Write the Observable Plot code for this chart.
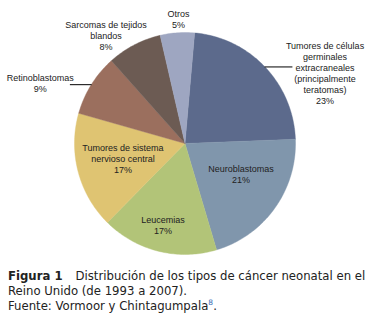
<!DOCTYPE html>
<html>
<head>
<meta charset="utf-8">
<script src="https://cdn.jsdelivr.net/npm/d3@7"></script>
<script src="https://cdn.jsdelivr.net/npm/@observablehq/plot@0.6"></script>
<style>
  html, body { margin: 0; padding: 0; background: #fff; }
  #chart svg { display: block; }
  .cap { font-family: "DejaVu Sans", "Noto Sans", sans-serif; font-size: 11.7px; line-height: 15px; color: #222; padding: 11px 0 0 8px; white-space: nowrap; }
  .cap b { font-weight: 700; }
  .cap .sp { display: inline-block; width: 13px; }
  .cap sup { font-size: 7.5px; color: #3b6eb5; vertical-align: 5px; line-height: 0; }
</style>
</head>
<body>
<div id="chart"></div>
<div class="cap"><b>Figura 1</b><span class="sp"></span>Distribución de los tipos de cáncer neonatal en el<br>Reino Unido (de 1993 a 2007).<br>Fuente: Vormoor y Chintagumpala<sup>8</sup>.</div>
<script>
// ---- data ----
const categories = [
  "Tumores de células\ngerminales\nextracraneales\n(principalmente\nteratomas)",
  "Neuroblastomas",
  "Leucemias",
  "Tumores de sistema\nnervioso central",
  "Retinoblastomas",
  "Sarcomas de tejidos\nblandos",
  "Otros"
];
const values = [23, 21, 17, 17, 9, 8, 5];
const colors = ["#5c6a8c", "#8096ac", "#b2c478", "#dfc472", "#9b6f5e", "#6c5b53", "#9ea6c1"];

// ---- layout (label placement, not data) ----
const labelLayout = [
  {r: 1.0, leader: 27, dx: 33, dy: 6},
  {r: 0.6, dx: 2, dy: -8},
  {r: 0.75, dx: -2, dy: 1},
  {r: 0.6, dx: 2, dy: -2},
  {r: 1.0, leader: -21, dx: -30, dy: -2},
  {r: 1.1, dx: -23, dy: 0},
  {r: 1.1, dx: 2, dy: -3}
];

const W = 380, H = 258;
const ml = 74, mr = 85, mt = 32, mb = 4;
const Rpx = (W - ml - mr) / 2;

const startDeg = 5;
const pie = d3.pie().sort(null).value(d => d.value)
  .startAngle(startDeg * Math.PI / 180)
  .endAngle(startDeg * Math.PI / 180 + 2 * Math.PI);
const table = categories.map((c, i) => ({cat: c, value: values[i], i}));
const arcs = pie(table);

const slicePts = [];
for (const a of arcs) {
  const cat = a.data.cat;
  slicePts.push({cat, x: 0, y: 0});
  const n = Math.max(2, Math.ceil((a.endAngle - a.startAngle) / (Math.PI / 180)));
  for (let k = 0; k <= n; k++) {
    const t = a.startAngle + (a.endAngle - a.startAngle) * k / n;
    slicePts.push({cat, x: Math.sin(t), y: Math.cos(t)});
  }
  slicePts.push({cat, x: 0, y: 0});
}

const labels = [];
const leaders = [];
arcs.forEach((a, i) => {
  const L = labelLayout[i];
  const mid = (a.startAngle + a.endAngle) / 2;
  let x = L.r * Math.sin(mid), y = L.r * Math.cos(mid);
  if (L.leader) {
    const x2 = x + L.leader / Rpx;
    leaders.push({id: i, x, y}, {id: i, x: x2, y});
    x = x2;
  }
  labels.push({
    text: a.data.cat + "\n" + a.data.value + "%",
    x: x + L.dx / Rpx,
    y: y - L.dy / Rpx
  });
});

const chart = Plot.plot({
  width: W, height: H,
  marginLeft: ml, marginRight: mr, marginTop: mt, marginBottom: mb,
  x: {domain: [-1, 1], axis: null},
  y: {domain: [-1, 1], axis: null},
  color: {domain: categories, range: colors},
  style: {fontFamily: "'Liberation Sans', Arial, sans-serif", background: "#fff"},
  marks: [
    Plot.line(slicePts, {x: "x", y: "y", z: "cat", fill: "cat", stroke: "cat", strokeWidth: 0.4, curve: "linear"}),
    Plot.line(leaders, {x: "x", y: "y", z: "id", stroke: "#000", strokeWidth: 1}),
    Plot.text(labels, {x: "x", y: "y", text: "text", fontSize: 9, lineHeight: 1.22, fill: "#222", fontFamily: "'Liberation Sans', Arial, sans-serif"})
  ]
});
document.getElementById("chart").appendChild(chart);
</script>
</body>
</html>
